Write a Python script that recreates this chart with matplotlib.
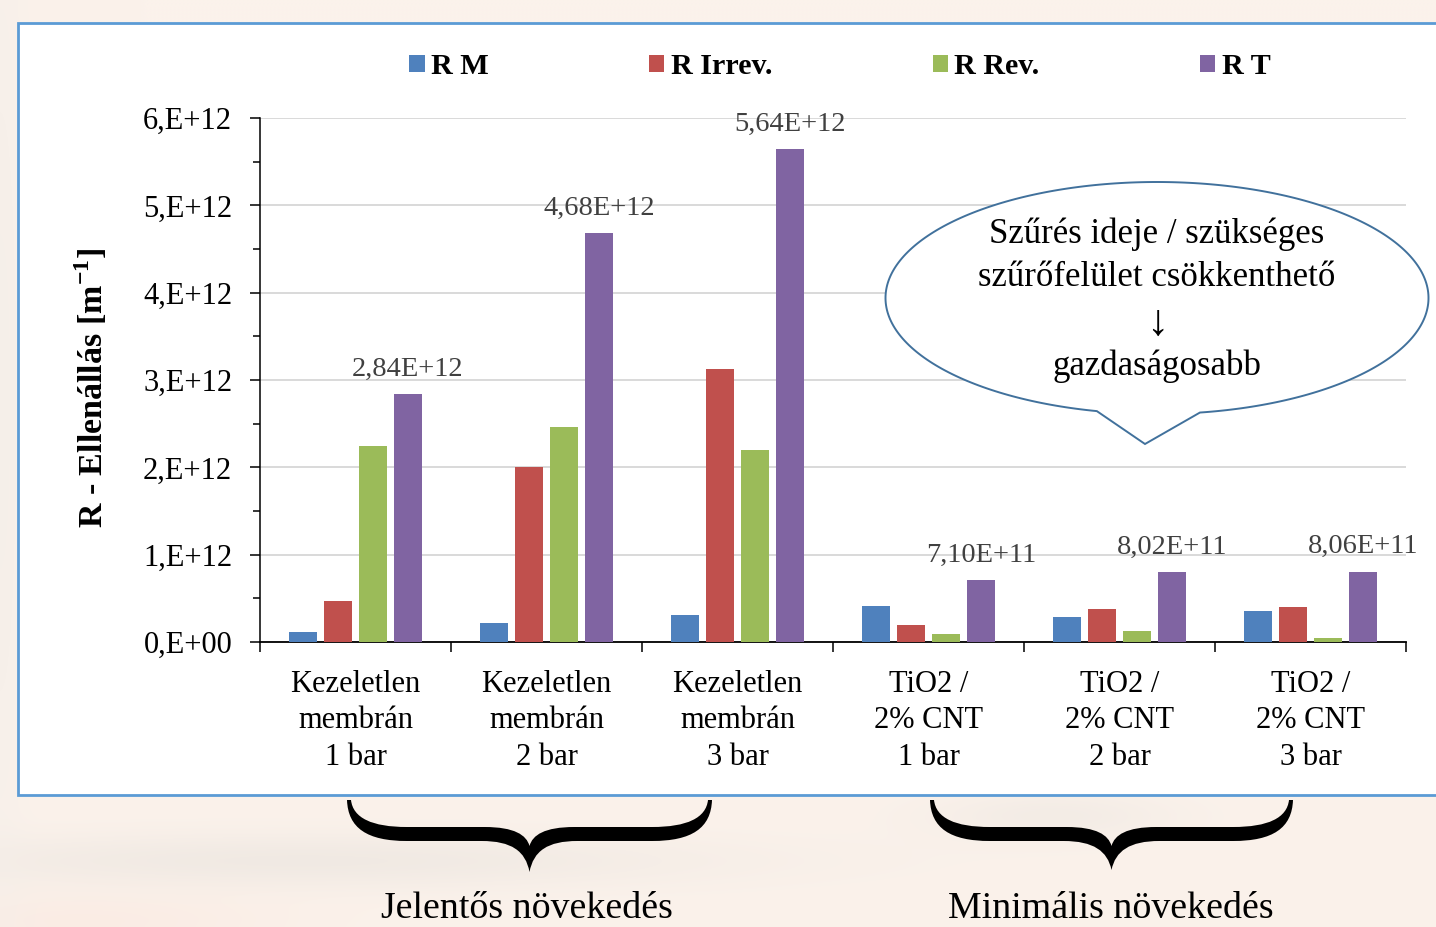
import numpy as np
import matplotlib
matplotlib.use("Agg")
import matplotlib.pyplot as plt
from matplotlib.patches import Rectangle, PathPatch
from matplotlib.path import Path

plt.rcParams['font.family'] = ['Liberation Serif', 'DejaVu Serif']
plt.rcParams['mathtext.fontset'] = 'custom'
plt.rcParams['mathtext.rm'] = 'Liberation Serif'
plt.rcParams['mathtext.bf'] = 'Liberation Serif:bold'

# data
categories = ["Kezeletlen\nmembrán\n1 bar", "Kezeletlen\nmembrán\n2 bar", "Kezeletlen\nmembrán\n3 bar",
              "TiO2 /\n2% CNT\n1 bar", "TiO2 /\n2% CNT\n2 bar", "TiO2 /\n2% CNT\n3 bar"]
series = ["R M", "R Irrev.", "R Rev.", "R T"]
r_m = [0.115e12, 0.22e12, 0.31e12, 0.415e12, 0.285e12, 0.352e12]
r_irrev = [0.47e12, 2.0e12, 3.13e12, 0.195e12, 0.375e12, 0.397e12]
r_rev = [2.245e12, 2.46e12, 2.2e12, 0.09e12, 0.126e12, 0.05e12]
r_t = [2.84e12, 4.68e12, 5.64e12, 7.10e11, 8.02e11, 8.06e11]
colors = ["#4F81BD", "#C0504D", "#9BBB59", "#8064A2"]
yticks = [0, 1e12, 2e12, 3e12, 4e12, 5e12, 6e12]
ytick_labels = ["0,E+00", "1,E+12", "2,E+12", "3,E+12", "4,E+12", "5,E+12", "6,E+12"]
bubble_lines = ["Szűrés ideje / szükséges", "szűrőfelület csökkenthető", "↓", "gazdaságosabb"]
group_notes = ["Jelentős növekedés", "Minimális növekedés"]

W, H = 1436, 927
fig = plt.figure(figsize=(W / 100, H / 100), dpi=100)

# soft slide background behind the chart
bg = fig.add_axes([0, 0, 1, 1], zorder=0)
bg.set_xlim(0, W)
bg.set_ylim(H, 0)
bg.axis('off')
yy, xx = np.mgrid[0:H:4, 0:W:4]
img = np.ones(yy.shape + (3,)) * np.array([251, 242, 235]) / 255
def blob(cx, cy, sx, sy, col, amt):
    g = np.exp(-((xx - cx) / sx) ** 2 - ((yy - cy) / sy) ** 2)[..., None] * amt
    return img * (1 - g) + np.array(col) / 255 * g
img = blob(300, 860, 420, 28, [236, 230, 224], 0.7)
img = blob(1050, 815, 120, 25, [238, 232, 226], 0.6)
img = blob(80, 920, 200, 30, [250, 234, 226], 0.7)
img = blob(0, 400, 25, 500, [243, 238, 233], 0.7)
bg.imshow(img, extent=(0, W, H, 0), aspect='auto', interpolation='bicubic')
bg.add_patch(Rectangle((18, 23), W, 772, facecolor='white', edgecolor='#5B9BD5', lw=2))

# main bar chart
ax = fig.add_axes([260 / W, 1 - 642 / H, (1406 - 260) / W, (642 - 118) / H], zorder=2)
ax.set_facecolor('none')
x = np.arange(len(categories))
step, bw = 0.183, 0.147
bars = []
for i, (vals, c) in enumerate(zip([r_m, r_irrev, r_rev, r_t], colors)):
    bars.append(ax.bar(x + (i - 1.5) * step, vals, bw, color=c, zorder=3))

for xi, v in zip(x + 1.5 * step, r_t):
    ax.annotate(f"{v:.2E}".replace('.', ','), (xi, v), xytext=(0, 18), textcoords='offset points',
                ha='center', va='center', fontsize=20.5, color='#404040', zorder=4)

ax.set_xlim(-0.5, len(categories) - 0.5)
ax.set_ylim(0, 6e12)
ax.set_yticks(yticks)
ax.set_yticklabels(ytick_labels, fontsize=22)
ax.set_yticks(np.arange(0.5e12, 6e12, 1e12), minor=True)
ax.set_xticks(x)
ax.set_xticklabels(categories, fontsize=22, linespacing=1.34)
ax.set_xticks(np.arange(-0.5, len(categories)), minor=True)
ax.tick_params(axis='y', which='major', direction='out', length=7, width=1.1, pad=13)
ax.tick_params(axis='y', which='minor', direction='out', length=5, width=1.1)
ax.tick_params(axis='x', which='major', length=0, pad=20)
ax.tick_params(axis='x', which='minor', direction='out', length=7, width=1.1)
ax.grid(axis='y', which='major', color='#D9D9D9', lw=1.4, zorder=0)
ax.set_axisbelow(True)
for s in ['top', 'right']:
    ax.spines[s].set_visible(False)
ax.spines['left'].set_linewidth(1.1)
ax.spines['bottom'].set_linewidth(1.3)
ax.set_ylabel(r"R - Ellenállás [m$^{\mathbf{-1}}$]", fontsize=24.5, fontweight='bold')
ax.yaxis.set_label_coords(-(260 - 110) / (1406 - 260), 0.485)

ax.legend(bars, series, loc='center', bbox_to_anchor=(840 / W, 1 - 67 / H), bbox_transform=fig.transFigure,
          ncol=4, frameon=False, prop={'size': 21.7, 'weight': 'bold'}, handlelength=0.5, handleheight=0.5,
          handletextpad=0.22, columnspacing=5.32, borderpad=0, borderaxespad=0)

# overlay: speech bubble and braces
fg = fig.add_axes([0, 0, 1, 1], zorder=5)
fg.set_xlim(0, W)
fg.set_ylim(H, 0)
fg.axis('off')
fg.patch.set_alpha(0)

cx, cy, a, b = 1157, 298, 271.5, 116
t0, t1 = np.radians(102.8), np.radians(360 + 80.9)
t = np.linspace(t0, t1, 300)
pts = np.column_stack([cx + a * np.cos(t), cy + b * np.sin(t)])
pts = np.vstack([pts, [1145, 444], pts[:1]])
fg.add_patch(PathPatch(Path(pts, closed=True), facecolor='white', edgecolor='#41719C', lw=1.4))
for yl, line, fs in zip([234, 278, 324, 366], bubble_lines, [25, 25, 32, 25]):
    fg.text(cx, yl, line, ha='center', va='center', fontsize=fs)


def brace(L, R, top, tip):
    C = (L + R) / 2
    verts = [
        (L, top), (L + 1, top + 28), (L + 20, top + 41), (L + 60, top + 41),
        (C - 48, top + 41),
        (C - 18, top + 41), (C - 4, top + 51), (C, tip),
        (C + 4, top + 51), (C + 18, top + 41), (C + 48, top + 41),
        (R - 60, top + 41),
        (R - 20, top + 41), (R - 1, top + 28), (R, top),
        (R - 4, top),
        (R - 6, top + 18), (R - 25, top + 27), (R - 60, top + 27),
        (C + 45, top + 27),
        (C + 15, top + 27), (C + 3, top + 35), (C, top + 46),
        (C - 3, top + 35), (C - 15, top + 27), (C - 45, top + 27),
        (L + 60, top + 27),
        (L + 25, top + 27), (L + 6, top + 18), (L + 4, top),
        (L, top),
    ]
    codes = ([Path.MOVETO] + [Path.CURVE4] * 3 + [Path.LINETO] + [Path.CURVE4] * 6 + [Path.LINETO]
             + [Path.CURVE4] * 3 + [Path.LINETO] + [Path.CURVE4] * 3 + [Path.LINETO]
             + [Path.CURVE4] * 6 + [Path.LINETO] + [Path.CURVE4] * 3 + [Path.CLOSEPOLY])
    fg.add_patch(PathPatch(Path(verts, codes), facecolor='black', edgecolor='none'))


brace(347, 712, 800, 872)
brace(930, 1293, 800, 870)
fg.text(527, 918, group_notes[0], ha='center', va='baseline', fontsize=27.3)
fg.text(1111, 918, group_notes[1], ha='center', va='baseline', fontsize=27.3)

fig.savefig("out.png", dpi=100)
